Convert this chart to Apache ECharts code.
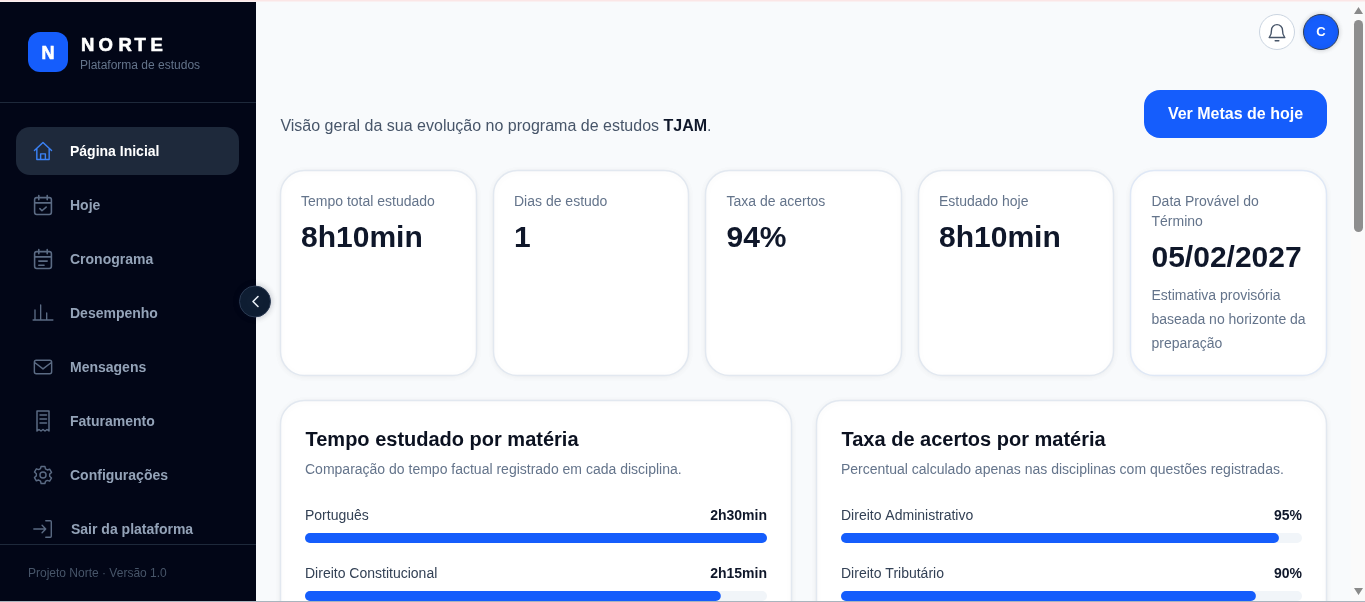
<!DOCTYPE html>
<html><head><meta charset="utf-8">
<script src="https://cdn.jsdelivr.net/npm/echarts@6/dist/echarts.min.js"></script>
<style>html,body{margin:0;padding:0;background:#f8fafc;overflow:hidden}#c{width:1365px;height:602px}</style>
</head><body><div id="c"></div>
<script>
const timeCategories=['Português','Direito Constitucional'];
const timeMinutes=[150,135];
const timeLabels=['2h30min','2h15min'];
const timeMax=150;
const rateCategories=['Direito Administrativo','Direito Tributário'];
const rateValues=[95,90];
const rateLabels=['95%','90%'];
const rateMax=100;
const menuLabels=['Página Inicial','Hoje','Cronograma','Desempenho','Mensagens','Faturamento','Configurações','Sair da plataforma'];
const statLabels=['Tempo total estudado','Dias de estudo','Taxa de acertos','Estudado hoje'];
const statValues=['8h10min','1','94%','8h10min'];

const FONT='"Liberation Sans", Arial, sans-serif';
const BLUE='#155dfc';
const els=[];
let shapeId=0;
function pathEl(d,opts){
  const name='svgShape'+(shapeId++);
  echarts.graphic.registerShape(name,echarts.graphic.extendPath(d,{}));
  els.push(Object.assign({type:name,silent:true},opts));
}
function rect(x,y,w,h,r,fill,extra){els.push({type:'rect',silent:true,z:(extra&&extra.z)||0,shape:{x,y,width:w,height:h,r},style:Object.assign({fill},extra&&extra.style)});}
function text(x,y,t,size,color,weight,align,rich,extra){els.push({type:'text',silent:true,x,y:y+1,z:5,style:Object.assign({text:t,fill:color,fontFamily:FONT,fontSize:size,fontWeight:weight||'normal',textAlign:align||'left',textVerticalAlign:'middle',rich},extra)});}
function icon(cx,cy,d,color,s,w){s=s||0.88;pathEl(d,{z:5,x:cx-12*s,y:cy-12*s,scaleX:s,scaleY:s,style:{fill:'none',stroke:color,lineWidth:w||1.6,lineCap:'round',lineJoin:'round'}});}

// page chrome
rect(0,0,1365,602,0,'#f8fafc');
rect(0,0,1365,1.5,0,'#fbe6e6');
rect(0,2,256,600,0,'#020617');
rect(0,102,256,1,0,'#1e293b');
rect(0,544,256,1,0,'#1e293b');
rect(28,32,40,40,12,BLUE);
const heavy={stroke:'#ffffff',lineWidth:0.6};
text(48,53,'N',18,'#ffffff','bold','center',undefined,heavy);
['N','O','R','T','E'].forEach((l,i)=>text([81,98.5,118.5,134.5,150.5][i],44.5,l,18.5,'#ffffff','bold','left',undefined,heavy));
text(80,64.5,'Plataforma de estudos',12,'#64748b');
rect(16,127,223,48,14,'#1e293b');
const menuY=[151,205,259,313,367,421,475,529];
const menuIcons=[
'M3 11.5L12 3l9 8.5M5.5 9.5V21h13V9.5M9.5 21v-6h5v6',
'M6 5h12a2 2 0 0 1 2 2v12a2 2 0 0 1-2 2H6a2 2 0 0 1-2-2V7a2 2 0 0 1 2-2zM4 10h16M8 3v4M16 3v4M9 15.5l2 2 4-3.5',
'M6 5h12a2 2 0 0 1 2 2v12a2 2 0 0 1-2 2H6a2 2 0 0 1-2-2V7a2 2 0 0 1 2-2zM4 10h16M8 3v4M16 3v4M8 14h8M8 18h5',
'M1 19.8h22M3.1 19.8V8.7M9.4 19.8V3.1M16.1 19.8V12',
'M5 5h14a2 2 0 0 1 2 2v10a2 2 0 0 1-2 2H5a2 2 0 0 1-2-2V7a2 2 0 0 1 2-2zM3 7l9 7 9-7',
'M6 2h12v20l-2-1.5-2 1.5-2-1.5-2 1.5-2-1.5-2 1.5zM9 6h6.5M9 10h6.5M9 14h6.5',
'M10 3h4l.6 2.6 1.9 1.1 2.5-.8 2 3.4-2 1.8v2.2l2 1.8-2 3.4-2.5-.8-1.9 1.1L14 21h-4l-.6-2.6-1.9-1.1-2.5.8-2-3.4 2-1.8v-2.2l-2-1.8 2-3.4 2.5.8 1.9-1.1zM12 8.8a3.2 3.2 0 1 0 0 6.4 3.2 3.2 0 0 0 0-6.4z',
'M15 3h5a1 1 0 0 1 1 1v16a1 1 0 0 1-1 1h-5M2 12h13M11 8l4 4-4 4'];
const menuIconScale=[0.95,1.05,1.05,0.9,0.96,1,0.95,0.92];
menuLabels.forEach((m,i)=>{
  text(i===7?71:70,menuY[i],m,14,i===0?'#ffffff':'#94a3b8','bold');
  icon(43,menuY[i],menuIcons[i],i===0?'#3b82f6':'#5b6b84',menuIconScale[i],1.5);
});
text(28,572.5,'Projeto Norte · Versão 1.0',12,'#475569');
els.push({type:'circle',silent:true,z:6,shape:{cx:255,cy:301.5,r:15.5},style:{fill:'#0f1e33',stroke:'#2b3a52',lineWidth:1,shadowBlur:6,shadowColor:'rgba(15,23,42,.25)'}});
els.push({type:'polyline',silent:true,z:7,shape:{points:[[258,296.5],[253,301.5],[258,306.5]]},style:{fill:'none',stroke:'#e8edf4',lineWidth:1.6,lineCap:'round',lineJoin:'round'}});

// header
els.push({type:'circle',silent:true,z:3,shape:{cx:1277,cy:32,r:17.5},style:{fill:'#ffffff',stroke:'#cbd5e1',lineWidth:1}});
icon(1277,32,'M6 10a6 6 0 0 1 12 0c0 6 2 7 2.5 8h-17C4 17 6 16 6 10zM10 21.5h4','#475569',0.92,1.5);
els.push({type:'circle',silent:true,z:3,shape:{cx:1321,cy:32,r:17.5},style:{fill:BLUE,stroke:'#334155',lineWidth:1,shadowBlur:5,shadowColor:'rgba(15,23,42,.2)'}});
text(1321,31,'C',13,'#ffffff','bold','center');
text(280.4,126,'{a|Visão geral da sua evolução no programa de estudos }{b|TJAM}{a|.}',16,'#475569','normal','left',{
  a:{fontSize:16,fontFamily:FONT,fill:'#475569'},
  b:{fontSize:16,fontFamily:FONT,fontWeight:'bold',fill:'#0f172a'}});
rect(1144,90,183,48,16,BLUE);
text(1235.5,113.5,'Ver Metas de hoje',16,'#ffffff','bold','center');

// cards
const cardStyle={style:{stroke:'#e2e8f0',lineWidth:1.5,shadowBlur:6,shadowOffsetY:1,shadowColor:'rgba(15,23,42,.05)'}};
const statX=[280.5,493.5,705.5,918.5];
const statW=[196,195,196,195];
const statTextX=[301,514,726.5,939];
statX.forEach((x,i)=>{
  rect(x,170.5,statW[i],205,24,'#ffffff',cardStyle);
  text(statTextX[i],201.5,statLabels[i],14,'#64748b');
  text(statTextX[i],238,statValues[i],30,'#0f172a','bold');
});
rect(1130.5,170.5,196,205,24,'#ffffff',{style:{stroke:'#dfe8f6',lineWidth:1.5,shadowBlur:6,shadowOffsetY:1,shadowColor:'rgba(15,23,42,.05)'}});
text(1151.5,201.5,'Data Provável do',14,'#64748b');
text(1151.5,221.5,'Término',14,'#64748b');
text(1151.5,258,'05/02/2027',30,'#0f172a','bold');
text(1151.5,295.5,'Estimativa provisória',14,'#64748b');
text(1151.5,319.5,'baseada no horizonte da',14,'#64748b');
text(1151.5,343.5,'preparação',14,'#64748b');

// panels
rect(280.5,400.5,511,260,24,'#ffffff',cardStyle);
rect(816.5,400.5,510,260,24,'#ffffff',cardStyle);
text(305.5,439.5,'Tempo estudado por matéria',20,'#0b1120','bold');
text(305,469.5,'Comparação do tempo factual registrado em cada disciplina.',14,'#64748b');
text(841.5,439.5,'Taxa de acertos por matéria',20,'#0b1120','bold');
text(841,469.5,'Percentual calculado apenas nas disciplinas com questões registradas.',14,'#64748b');

// scrollbar & edge
rect(1351,2,14,599,0,'#fafafa',{z:20});
rect(1354,20,9,212,4.5,'#8e8e8e',{z:21});
pathEl('M1358.5 7L1363 14H1354ZM1354 588H1363L1358.5 595Z',{z:21,style:{fill:'#8a8a8a'}});
rect(0,601,1365,1,0,'#a9b4bd',{z:30});

function barSet(gridIndex,cats,vals,labels,max){
  const lbl={fontFamily:FONT,fontSize:14,verticalAlign:'middle',lineHeight:16};
  return [
   {type:'bar',xAxisIndex:gridIndex,yAxisIndex:gridIndex,barWidth:10,barGap:'-100%',silent:true,z:3,
    data:cats.map(()=>max),itemStyle:{color:'#f1f5f9',borderRadius:5},
    label:Object.assign({show:true,position:['100%',-17],align:'right',color:'#0f172a',fontWeight:'bold',formatter:p=>labels[p.dataIndex]},lbl)},
   {type:'bar',xAxisIndex:gridIndex,yAxisIndex:gridIndex,barWidth:10,barGap:'-100%',silent:true,z:4,
    data:vals,itemStyle:{color:BLUE,borderRadius:5},
    label:Object.assign({show:true,position:[0,-17],align:'left',color:'#334155',formatter:p=>cats[p.dataIndex]},lbl)}
  ];
}
const chart=echarts.init(document.getElementById('c'),null,{renderer:'canvas'});
const ax=(max)=>({type:'value',min:0,max,show:false});
const cy=(cats)=>({type:'category',data:cats,inverse:true,show:false});
chart.setOption({
  animation:false,
  tooltip:{show:false},
  graphic:{elements:els},
  grid:[{left:305,top:509,width:462,height:116,outerBoundsMode:'none'},{left:841,top:509,width:461,height:116,outerBoundsMode:'none'}],
  xAxis:[Object.assign(ax(timeMax),{gridIndex:0}),Object.assign(ax(rateMax),{gridIndex:1})],
  yAxis:[Object.assign(cy(timeCategories),{gridIndex:0}),Object.assign(cy(rateCategories),{gridIndex:1})],
  series:[...barSet(0,timeCategories,timeMinutes,timeLabels,timeMax),...barSet(1,rateCategories,rateValues,rateLabels,rateMax)]
});
</script></body></html>
